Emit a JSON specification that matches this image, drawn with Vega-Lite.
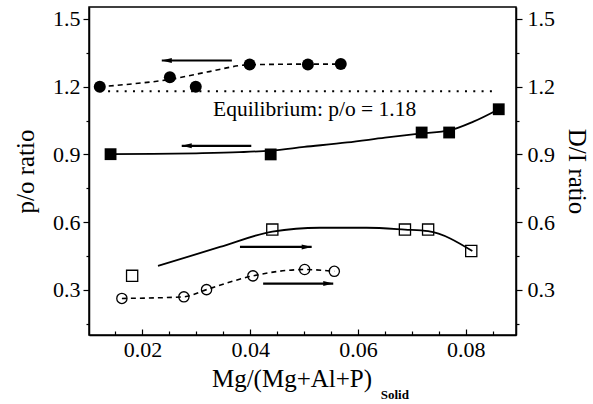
{
  "$schema": "https://vega.github.io/schema/vega-lite/v6.json",
  "width": 427,
  "height": 328,
  "autosize": {"type": "none"},
  "padding": {"left": 89, "top": 7, "right": 77, "bottom": 69},
  "background": "white",
  "config": {
    "view": {"stroke": "black", "strokeWidth": 1.5},
    "font": "'Liberation Serif', serif",
    "text": {"font": "'Liberation Serif', serif"},
    "axis": {
      "domainColor": "black", "domainWidth": 1.5,
      "tickColor": "black", "tickWidth": 1.2,
      "labelFont": "'Liberation Serif', serif", "labelFontSize": 22, "labelColor": "black",
      "titleFont": "'Liberation Serif', serif", "titleFontSize": 25, "titleFontWeight": "normal", "titleColor": "black",
      "grid": false, "labelFlush": false, "labelOverlap": false
    }
  },
  "datasets": {
    "pts": [
      {"series": "fc", "x": 0.0121, "y": 1.2},
      {"series": "fc", "x": 0.0251, "y": 1.242},
      {"series": "fc", "x": 0.0299, "y": 1.2},
      {"series": "fc", "x": 0.0399, "y": 1.298},
      {"series": "fc", "x": 0.0507, "y": 1.298},
      {"series": "fc", "x": 0.0568, "y": 1.3},
      {"series": "fs", "x": 0.0141, "y": 0.901},
      {"series": "fs", "x": 0.0438, "y": 0.9},
      {"series": "fs", "x": 0.0718, "y": 0.997},
      {"series": "fs", "x": 0.0769, "y": 0.997},
      {"series": "fs", "x": 0.0861, "y": 1.1},
      {"series": "os", "x": 0.0181, "y": 0.362},
      {"series": "os", "x": 0.0441, "y": 0.567},
      {"series": "os", "x": 0.0687, "y": 0.567},
      {"series": "os", "x": 0.073, "y": 0.567},
      {"series": "os", "x": 0.081, "y": 0.472},
      {"series": "oc", "x": 0.0162, "y": 0.262},
      {"series": "oc", "x": 0.0277, "y": 0.269},
      {"series": "oc", "x": 0.0319, "y": 0.301},
      {"series": "oc", "x": 0.0405, "y": 0.362},
      {"series": "oc", "x": 0.0501, "y": 0.39},
      {"series": "oc", "x": 0.0556, "y": 0.382}
    ],
    "fits": [
      {"series": "fc", "dash": "dashed", "x": 0.0121, "y": 1.2},
      {"series": "fc", "dash": "dashed", "x": 0.018, "y": 1.212},
      {"series": "fc", "dash": "dashed", "x": 0.0251, "y": 1.232},
      {"series": "fc", "dash": "dashed", "x": 0.032, "y": 1.265},
      {"series": "fc", "dash": "dashed", "x": 0.0399, "y": 1.297},
      {"series": "fc", "dash": "dashed", "x": 0.0507, "y": 1.3},
      {"series": "fc", "dash": "dashed", "x": 0.0568, "y": 1.3},
      {"series": "oc", "dash": "dashed", "x": 0.0162, "y": 0.262},
      {"series": "oc", "dash": "dashed", "x": 0.0277, "y": 0.269},
      {"series": "oc", "dash": "dashed", "x": 0.0319, "y": 0.301},
      {"series": "oc", "dash": "dashed", "x": 0.0405, "y": 0.362},
      {"series": "oc", "dash": "dashed", "x": 0.0501, "y": 0.39},
      {"series": "oc", "dash": "dashed", "x": 0.0556, "y": 0.382},
      {"series": "fs", "dash": "solid", "x": 0.0141, "y": 0.901},
      {"series": "fs", "dash": "solid", "x": 0.022, "y": 0.902},
      {"series": "fs", "dash": "solid", "x": 0.03, "y": 0.905},
      {"series": "fs", "dash": "solid", "x": 0.038, "y": 0.91},
      {"series": "fs", "dash": "solid", "x": 0.0438, "y": 0.917},
      {"series": "fs", "dash": "solid", "x": 0.05, "y": 0.933},
      {"series": "fs", "dash": "solid", "x": 0.058, "y": 0.953},
      {"series": "fs", "dash": "solid", "x": 0.065, "y": 0.974},
      {"series": "fs", "dash": "solid", "x": 0.0718, "y": 0.993},
      {"series": "fs", "dash": "solid", "x": 0.0769, "y": 1.006},
      {"series": "fs", "dash": "solid", "x": 0.0814, "y": 1.045},
      {"series": "fs", "dash": "solid", "x": 0.0861, "y": 1.1},
      {"series": "os", "dash": "solid", "x": 0.0229, "y": 0.406},
      {"series": "os", "dash": "solid", "x": 0.0344, "y": 0.49},
      {"series": "os", "dash": "solid", "x": 0.0441, "y": 0.558},
      {"series": "os", "dash": "solid", "x": 0.0529, "y": 0.575},
      {"series": "os", "dash": "solid", "x": 0.0616, "y": 0.575},
      {"series": "os", "dash": "solid", "x": 0.0687, "y": 0.567},
      {"series": "os", "dash": "solid", "x": 0.073, "y": 0.56},
      {"series": "os", "dash": "solid", "x": 0.0812, "y": 0.472}
    ],
    "arrows": [
      {"x": 0.0236, "xt": 0.0366, "y": 1.316, "dir": "left"},
      {"x": 0.0273, "xt": 0.0402, "y": 0.938, "dir": "left"},
      {"x": 0.0514, "xt": 0.0381, "y": 0.49, "dir": "right"},
      {"x": 0.0554, "xt": 0.0424, "y": 0.328, "dir": "right"}
    ],
    "eq": [{"x": 0.0121, "xe": 0.0857, "y": 1.18}],
    "labels": [
      {"x": 0.0331, "y": 1.07, "label": "Equilibrium: p/o = 1.18"}
    ],
    "sub": [{"x": 0.0642, "y": -0.166, "label": "Solid"}]
  },
  "encoding": {
    "x": {
      "field": "x", "type": "quantitative",
      "scale": {"domain": [0.0101, 0.0893], "nice": false, "zero": false},
      "axis": {
        "title": "Mg/(Mg+Al+P)",
        "values": [0.015, 0.02, 0.025, 0.03, 0.035, 0.04, 0.045, 0.05, 0.055, 0.06, 0.065, 0.07, 0.075, 0.08, 0.085],
        "tickSize": {"condition": {"test": "abs(datum.value*50 - round(datum.value*50)) < 0.01", "value": -6}, "value": -4},
        "labelExpr": "abs(datum.value*50 - round(datum.value*50)) < 0.01 ? format(datum.value, '.2f') : ''",
        "labelPadding": 10,
        "titleX": 202.5, "titleY": 51, "titleBaseline": "alphabetic", "titleAlign": "center"
      }
    }
  },
  "layer": [
    {
      "data": {"name": "eq"},
      "mark": {"type": "rule", "strokeDash": [2, 6.3], "strokeWidth": 2, "color": "black"},
      "encoding": {
        "x2": {"field": "xe"},
        "y": {
          "field": "y", "type": "quantitative",
          "scale": {"domain": [0.1, 1.553], "nice": false, "zero": false},
          "axis": {
            "title": "p/o ratio", "orient": "left",
            "values": [0.15, 0.3, 0.45, 0.6, 0.75, 0.9, 1.05, 1.2, 1.35, 1.5],
            "tickSize": {"condition": {"test": "abs(datum.value/0.3 - round(datum.value/0.3)) < 0.01", "value": 6}, "value": 3},
            "labelExpr": "abs(datum.value/0.3 - round(datum.value/0.3)) < 0.01 ? format(datum.value, '.1f') : ''",
            "labelPadding": 3, "titlePadding": 14
          }
        }
      }
    },
    {
      "data": {"name": "labels"},
      "mark": {"type": "text", "align": "left", "baseline": "alphabetic", "fontSize": 21.5, "color": "black", "font": "'Liberation Serif', serif"},
      "encoding": {
        "y": {"field": "y", "type": "quantitative", "axis": null},
        "text": {"field": "label"}
      }
    },
    {
      "data": {"name": "fits"},
      "transform": [{"filter": "datum.dash == 'dashed'"}],
      "mark": {"type": "line", "interpolate": "monotone", "strokeDash": [5, 4], "strokeWidth": 1.6, "color": "black"},
      "encoding": {
        "y": {"field": "y", "type": "quantitative", "axis": null},
        "detail": {"field": "series"}
      }
    },
    {
      "data": {"name": "fits"},
      "transform": [{"filter": "datum.dash == 'solid'"}],
      "mark": {"type": "line", "interpolate": "monotone", "strokeWidth": 1.8, "color": "black"},
      "encoding": {
        "y": {"field": "y", "type": "quantitative", "axis": null},
        "detail": {"field": "series"}
      }
    },
    {
      "data": {"name": "arrows"},
      "mark": {"type": "rule", "strokeWidth": 2.2, "color": "black"},
      "encoding": {
        "x2": {"field": "xt"},
        "y": {"field": "y", "type": "quantitative", "axis": null}
      }
    },
    {
      "data": {"name": "arrows"},
      "mark": {"type": "point", "filled": true, "color": "black", "opacity": 1, "size": 100},
      "encoding": {
        "y": {"field": "y", "type": "quantitative", "axis": null},
        "shape": {"field": "dir", "type": "nominal", "legend": null,
          "scale": {"domain": ["left", "right"], "range": ["M0,0L2,-0.5L2,0.5Z", "M0,0L-2,-0.5L-2,0.5Z"]}}
      }
    },
    {
      "data": {"name": "pts"},
      "transform": [{"filter": "datum.series == 'fc' || datum.series == 'fs'"}],
      "mark": {"type": "point", "filled": true, "color": "black", "opacity": 1},
      "encoding": {
        "y": {"field": "y", "type": "quantitative", "axis": null},
        "shape": {"field": "series", "type": "nominal", "legend": null,
          "scale": {"domain": ["fc", "fs"], "range": ["circle", "square"]}},
        "size": {"field": "series", "type": "nominal", "legend": null,
          "scale": {"domain": ["fc", "fs"], "range": [144, 140]}}
      }
    },
    {
      "data": {"name": "pts"},
      "transform": [{"filter": "datum.series == 'oc' || datum.series == 'os'"}],
      "mark": {"type": "point", "filled": false, "color": "black", "opacity": 1, "strokeWidth": 1.3},
      "encoding": {
        "y": {
          "field": "y", "type": "quantitative",
          "axis": {
            "title": "D/I ratio", "orient": "right",
            "values": [0.15, 0.3, 0.45, 0.6, 0.75, 0.9, 1.05, 1.2, 1.35, 1.5],
            "tickSize": {"condition": {"test": "abs(datum.value/0.3 - round(datum.value/0.3)) < 0.01", "value": 6}, "value": 3},
            "labelExpr": "abs(datum.value/0.3 - round(datum.value/0.3)) < 0.01 ? format(datum.value, '.1f') : ''",
            "labelPadding": 5, "titlePadding": 9
          }
        },
        "shape": {"field": "series", "type": "nominal", "legend": null,
          "scale": {"domain": ["oc", "os"], "range": ["circle", "square"]}},
        "size": {"field": "series", "type": "nominal", "legend": null,
          "scale": {"domain": ["oc", "os"], "range": [105, 125]}}
      }
    },
    {
      "data": {"name": "sub"},
      "mark": {"type": "text", "align": "left", "baseline": "middle", "fontSize": 13, "fontWeight": "bold", "color": "black", "font": "'Liberation Serif', serif"},
      "encoding": {
        "y": {"field": "y", "type": "quantitative", "axis": null},
        "text": {"field": "label"}
      }
    }
  ],
  "resolve": {"scale": {"y": "shared", "shape": "independent", "size": "independent"}, "axis": {"y": "independent"}}
}
